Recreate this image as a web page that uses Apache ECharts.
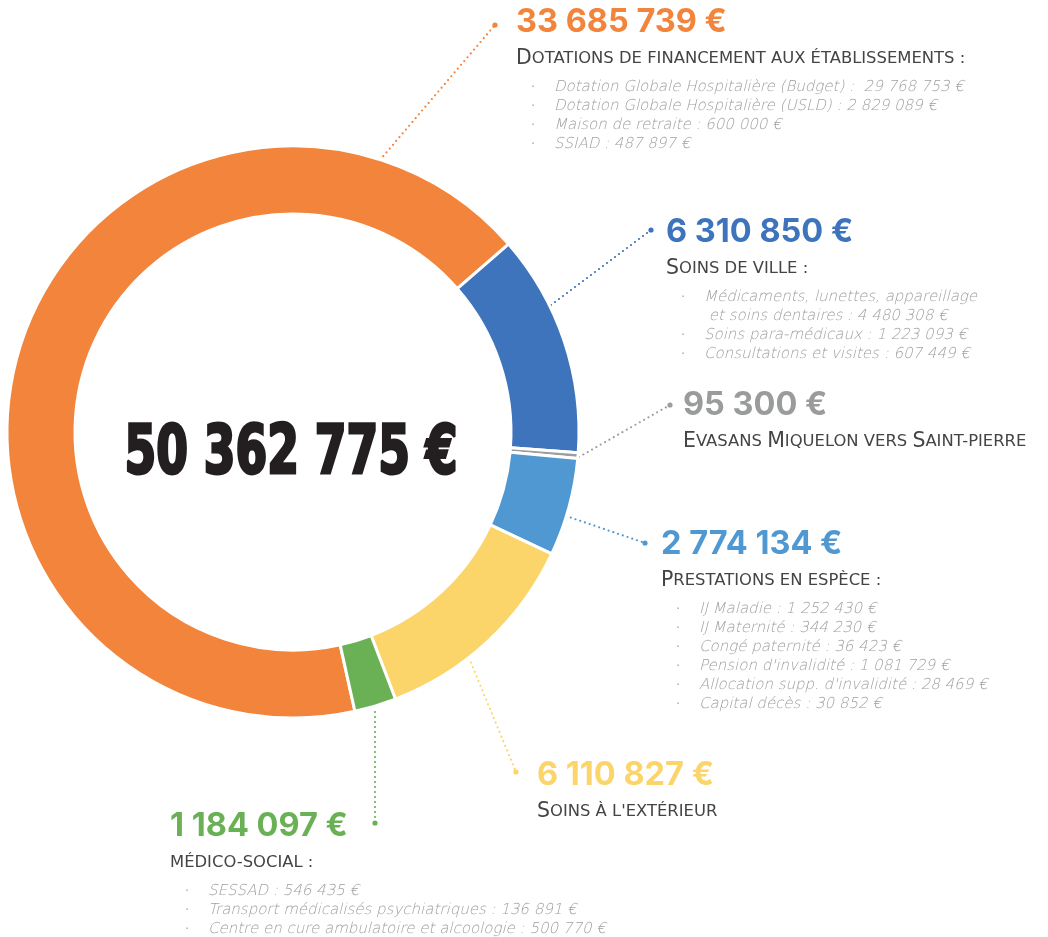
<!DOCTYPE html>
<html>
<head>
<meta charset="utf-8">
<script src="https://cdn.jsdelivr.net/npm/echarts@6/dist/echarts.min.js"></script>
<style>
  html, body { margin: 0; padding: 0; background: #fff; }
  #chart { width: 1048px; height: 937px; }
</style>
</head>
<body>
<div id="chart"></div>
<script>
  // ---- data ----
  const categories = [
    "Dotations de financement aux établissements :",
    "Soins de ville :",
    "Evasans Miquelon vers Saint-pierre",
    "Prestations en espèce :",
    "Soins à l'extérieur",
    "médico-social :"
  ];
  const values = [33685739, 6310850, 95300, 2774134, 6110827, 1184097];
  const details = [
    [
      "Dotation Globale Hospitalière (Budget) :  29 768 753 €",
      "Dotation Globale Hospitalière (USLD) : 2 829 089 €",
      "Maison de retraite : 600 000 €",
      "SSIAD : 487 897 €"
    ],
    [
      "Médicaments, lunettes, appareillage\n et soins dentaires : 4 480 308 €",
      "Soins para-médicaux : 1 223 093 €",
      "Consultations et visites : 607 449 €"
    ],
    [],
    [
      "IJ Maladie : 1 252 430 €",
      "IJ Maternité : 344 230 €",
      "Congé paternité : 36 423 €",
      "Pension d'invalidité : 1 081 729 €",
      "Allocation supp. d'invalidité : 28 469 €",
      "Capital décès : 30 852 €"
    ],
    [],
    [
      "SESSAD : 546 435 €",
      "Transport médicalisés psychiatriques : 136 891 €",
      "Centre en cure ambulatoire et alcoologie : 500 770 €"
    ]
  ];
  const totalLabel = "50 362 775 €";

  // ---- styles / layout ----
  const colors = ["#f2843b", "#3e74bb", "#9d9d9d", "#4f98d2", "#fbd56a", "#6ab155"];
  const valueColors = ["#f2843b", "#3e74bb", "#9a9c9c", "#4f98d2", "#fbd56a", "#6ab155"];
  const labelPos = [[516, 4], [666, 214], [683, 387], [661, 526], [537, 757], [170, 808]];
  const lineStart = [[380, 160], [551, 305], [579, 457], [566, 516], [469, 658], [375, 712]];
  const lineEnd = [[495, 25], [651, 230], [670, 405], [645, 543], [516, 772], [375, 823]];

  function fmt(v) {
    return String(v).replace(/\B(?=(\d{3})+(?!\d))/g, " ") + " €";
  }

  // petites capitales : majuscules en grand, minuscules en petites majuscules
  function smallCaps(s) {
    let out = "", cur = null, buf = "";
    for (const ch of s) {
      const st = ch !== ch.toLowerCase() ? "cap" : "sc";
      if (st !== cur && buf) {
        out += "{" + cur + "|" + buf + "}";
        buf = "";
      }
      cur = st;
      buf += ch.toUpperCase();
    }
    if (buf) out += "{" + cur + "|" + buf + "}";
    return out;
  }

  function buildLabel(i) {
    const lines = ["{v" + i + "|" + fmt(values[i]) + "}", smallCaps(categories[i])];
    details[i].forEach(d => {
      d.split("\n").forEach((part, k) => {
        lines.push("{bul|" + (k ? " " : "·") + "}{item|" + part + "}");
      });
    });
    return lines.join("\n");
  }

  const rich = {
    cap: { fontFamily: "DejaVu Sans", fontSize: 20.5, color: "#444444", lineHeight: 38 },
    sc: { fontFamily: "DejaVu Sans", fontSize: 16.4, color: "#444444", lineHeight: 38 },
    bul: { fontFamily: "DejaVu Sans", fontSize: 13, color: "#a8a8a8", lineHeight: 19, width: 5, padding: [0, 18, 0, 15] },
    item: {
      fontFamily: "'DejaVu Sans ExtraLight', 'DejaVu Sans Light', 'DejaVu Sans'",
      fontStyle: "italic", fontWeight: 200, fontSize: 15, color: "#a0a0a0", lineHeight: 19
    }
  };
  valueColors.forEach((c, i) => {
    rich["v" + i] = { fontFamily: "Inter", fontWeight: 700, fontSize: 32.5, color: c, lineHeight: 36 };
  });

  const chart = echarts.init(document.getElementById("chart"));

  const dots = lineEnd.map((p, i) => ({
    type: "circle",
    shape: { cx: p[0], cy: p[1], r: 2.6 },
    style: { fill: colors[i] }
  }));

  chart.setOption({
    animation: false,
    series: [
      {
        type: "pie",
        center: [293, 432],
        radius: [218, 286],
        startAngle: 282.5,
        clockwise: true,
        minAngle: 1.2,
        avoidLabelOverlap: false,
        itemStyle: { borderColor: "#ffffff", borderWidth: 3 },
        label: {
          show: true,
          position: "outside",
          width: 560,
          overflow: "none",
          formatter: p => buildLabel(p.dataIndex),
          rich: rich
        },
        labelLine: {
          show: true,
          lineStyle: { width: 2.2, type: [0, 5], cap: "round" }
        },
        labelLayout: p => {
          const i = p.dataIndex;
          return {
            x: labelPos[i][0],
            y: labelPos[i][1],
            align: "left",
            verticalAlign: "top",
            labelLinePoints: [lineStart[i], lineEnd[i]]
          };
        },
        emphasis: { disabled: true },
        data: values.map((v, i) => ({
          name: categories[i],
          value: v,
          itemStyle: { color: colors[i] }
        }))
      }
    ],
    graphic: [
      {
        type: "group",
        x: 291,
        y: 455,
        scaleX: 0.745,
        children: [
          {
            type: "text",
            style: {
              text: totalLabel,
              x: 0,
              y: 0,
              align: "center",
              verticalAlign: "middle",
              fontFamily: "DejaVu Sans Condensed",
              fontWeight: "bold",
              fontSize: 68,
              fill: "#231f20",
              stroke: "#231f20",
              lineWidth: 3
            }
          }
        ]
      }
    ].concat(dots)
  });
</script>
</body>
</html>
